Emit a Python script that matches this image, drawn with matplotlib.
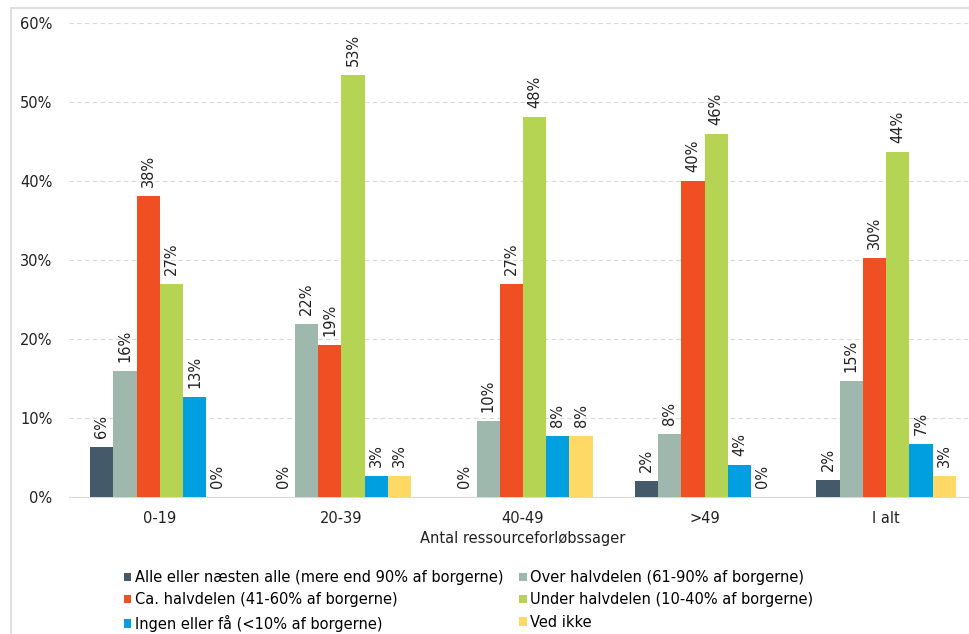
import numpy as np
import matplotlib.pyplot as plt
from matplotlib.patches import Rectangle

# Data
groups = ['0-19', '20-39', '40-49', '>49', 'I alt']
series_names = [
    'Alle eller næsten alle (mere end 90% af borgerne)',
    'Over halvdelen (61-90% af borgerne)',
    'Ca. halvdelen (41-60% af borgerne)',
    'Under halvdelen (10-40% af borgerne)',
    'Ingen eller få (<10% af borgerne)',
    'Ved ikke',
]
alle = [6.3, 0.0, 0.0, 2.0, 2.1]
over = [15.9, 21.9, 9.6, 8.0, 14.7]
ca = [38.1, 19.2, 26.9, 40.0, 30.2]
under = [27.0, 53.4, 48.1, 46.0, 43.7]
ingen = [12.7, 2.7, 7.7, 4.0, 6.7]
ved_ikke = [0.0, 2.7, 7.7, 0.0, 2.6]
series = [alle, over, ca, under, ingen, ved_ikke]
colors = ['#44596a', '#9fb8ae', '#ef4f23', '#b5d453', '#009fdf', '#ffd966']

plt.rcParams['font.family'] = ['DejaVu Sans']
txt_color = '#222222'

fig = plt.figure(figsize=(9.69, 6.34), dpi=100)
ax = fig.add_axes([69 / 969, 0.2161, 908 / 969, 0.7476])

# light frame around the chart (right and bottom edges fall outside the image)
fig.patches.append(Rectangle((11 / 969, -0.05), 1.0, 1.05 - 8 / 634, transform=fig.transFigure,
                             fill=False, edgecolor='#d9d9d9', linewidth=1.2))

x = np.arange(len(groups))
w = 0.128
handles = []
for i, (vals, name, c) in enumerate(zip(series, series_names, colors)):
    pos = x + (i - 2.5) * w
    b = ax.bar(pos, vals, width=w, color=c, label=name, zorder=3)
    handles.append(b)
    for p, v in zip(pos, vals):
        ax.annotate(f'{int(np.floor(v + 0.5))}%', (p, v), xytext=(0, 6.5),
                    textcoords='offset points', rotation=90, ha='center', va='bottom',
                    fontsize=10.5, color=txt_color)

ax.set_ylim(0, 60)
ax.set_xlim(-0.5, len(groups) - 0.5)
ax.set_yticks(range(0, 61, 10))
ax.set_yticklabels([f'{t}%' for t in range(0, 61, 10)])
ax.set_xticks(x)
ax.set_xticklabels(groups)
ax.tick_params(axis='both', length=0, labelsize=10.5, colors=txt_color)
ax.tick_params(axis='x', pad=10)
ax.tick_params(axis='y', pad=12)
ax.yaxis.grid(True, linestyle=(0, (4, 3)), color='#d9d9d9', linewidth=0.8, zorder=0)
for s in ['top', 'right', 'left']:
    ax.spines[s].set_visible(False)
ax.spines['bottom'].set_color('#d9d9d9')
ax.set_xlabel('Antal ressourceforløbssager', fontsize=10.5, color=txt_color, labelpad=4)

# legend is filled row by row in the reference
order = [0, 2, 4, 1, 3, 5]
fig.legend([handles[k] for k in order], [series_names[k] for k in order],
           loc='upper left', bbox_to_anchor=(124 / 969, 1 - 570 / 634), ncol=2,
           frameon=False, fontsize=10.5, handlelength=0.5, handleheight=0.5,
           handletextpad=0.25, columnspacing=1.1, labelspacing=0.5,
           borderpad=0, borderaxespad=0)

fig.savefig('out.png', dpi=100)
